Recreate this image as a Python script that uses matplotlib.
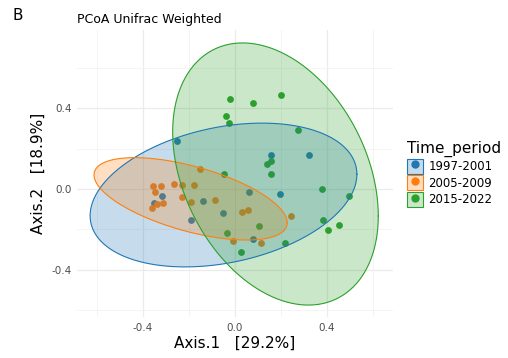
import numpy as np
import matplotlib
matplotlib.use("Agg")
import matplotlib.pyplot as plt
from matplotlib.patches import Patch
from matplotlib.lines import Line2D
from matplotlib.legend_handler import HandlerTuple

plt.rcParams['font.family'] = ['DejaVu Sans']

groups = ["1997-2001", "2005-2009", "2015-2022"]
colors = ["#1f77b4", "#ff7f0e", "#2ca02c"]

x_1997 = [-0.253, 0.158, 0.323, -0.317, -0.352, -0.138, 0.060, 0.196, -0.051, -0.193, 0.077]
y_1997 = [0.239, 0.168, 0.170, -0.033, -0.071, -0.058, -0.016, -0.025, -0.120, -0.153, -0.248]

x_2005 = [-0.152, -0.358, -0.323, -0.265, -0.229, -0.178, -0.348, -0.229, -0.193, -0.087,
          -0.312, -0.340, -0.362, 0.029, 0.055, 0.243, -0.007, 0.112]
y_2005 = [0.099, 0.015, 0.015, 0.023, 0.021, 0.018, -0.015, -0.038, -0.064, -0.054,
          -0.068, -0.076, -0.096, -0.114, -0.104, -0.134, -0.257, -0.269]

x_2015 = [-0.022, 0.080, 0.199, -0.039, -0.025, 0.275, 0.139, 0.155, 0.155, -0.048,
          0.378, 0.494, 0.106, -0.036, 0.025, 0.217, 0.384, 0.403, 0.451]
y_2015 = [0.446, 0.427, 0.464, 0.363, 0.325, 0.292, 0.125, 0.140, 0.073, 0.073,
          0.000, -0.033, -0.182, -0.219, -0.310, -0.269, -0.153, -0.203, -0.178]

# 95% ellipse parameters per group: centre, half-extent in x / y, correlation
ell_cx = [-0.050, -0.193, 0.176]
ell_cy = [-0.030, -0.049, 0.074]
ell_hx = [0.580, 0.420, 0.447]
ell_hy = [0.356, 0.204, 0.649]
ell_r = [0.288, -0.58, -0.32]

xticks = [-0.4, 0.0, 0.4]
yticks = [-0.4, 0.0, 0.4]

xs = [x_1997, x_2005, x_2015]
ys = [y_1997, y_2005, y_2015]

fig = plt.figure(figsize=(5.08, 3.58), dpi=100)
ax = fig.add_axes([77/508, 1-317/358, 316/508, 287/358])
ax.set_xlim(-0.687, 0.687)
ax.set_ylim(-0.634, 0.787)

for x, y, c in zip(xs, ys, colors):
    ax.scatter(x, y, s=24, color=c, linewidths=0, zorder=2)

t = np.linspace(0, 2*np.pi, 400)
for cx, cy, hx, hy, r, c in zip(ell_cx, ell_cy, ell_hx, ell_hy, ell_r, colors):
    ex = cx + hx*np.cos(t)
    ey = cy + hy*(r*np.cos(t) + np.sqrt(1-r*r)*np.sin(t))
    ax.fill(ex, ey, facecolor=c, alpha=0.25, edgecolor='none', zorder=3)
    ax.plot(ex, ey, color=c, lw=0.8, zorder=4)

ax.set_xticks(xticks)
ax.set_yticks(yticks)
ax.set_xticklabels([f"{v:.1f}" for v in xticks])
ax.set_yticklabels([f"{v:.1f}" for v in yticks])
ax.set_xticks([-0.6, -0.2, 0.2, 0.6], minor=True)
ax.set_yticks([-0.6, -0.2, 0.2, 0.6], minor=True)
ax.grid(True, which='major', color='#ebebeb', lw=0.9, zorder=0)
ax.grid(True, which='minor', color='#f3f3f3', lw=0.6, zorder=0)
ax.set_axisbelow(True)
for s in ax.spines.values():
    s.set_visible(False)
ax.tick_params(which='both', length=0, labelsize=7.5, labelcolor='#4d4d4d', pad=4)

ax.set_xlabel("Axis.1   [29.2%]", fontsize=11, labelpad=2)
ax.set_ylabel("Axis.2   [18.9%]", fontsize=11, labelpad=4)

fig.text(77/508, 1-19/358, "PCoA Unifrac Weighted", fontsize=9, va='center', ha='left')
fig.text(12/508, 1-15/358, "B", fontsize=11, va='center', ha='left')

handles = []
for c in colors:
    p = Patch(facecolor=matplotlib.colors.to_rgba(c, 0.25), edgecolor=c, lw=0.8)
    m = Line2D([], [], marker='o', ls='none', color=c, markersize=5)
    handles.append((p, m))
leg = fig.legend(handles, groups, handler_map={tuple: HandlerTuple(ndivide=1)},
                 loc='upper left', bbox_to_anchor=(407/508, 1-141/358),
                 title="Time_period", title_fontsize=11, fontsize=8.5,
                 frameon=False, handlelength=1.35, handleheight=1.6,
                 handletextpad=0.45, labelspacing=0.12, borderaxespad=0, borderpad=0)
leg._legend_box.align = "left"

fig.savefig("out.png", dpi=100)
